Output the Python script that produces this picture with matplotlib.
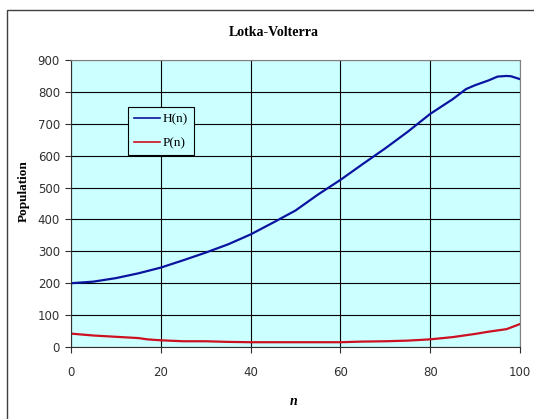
import matplotlib.pyplot as plt
from matplotlib.patches import Rectangle

# values
n_h = [0, 5, 10, 15, 20, 25, 30, 35, 40, 45, 50, 55, 60, 65, 70, 75, 80, 85, 88, 90, 93, 95, 97, 98, 100]
h_vals = [200, 205, 216, 231, 249, 272, 296, 322, 353, 390, 428, 478, 524, 574, 623, 675, 731, 777, 809, 821, 836, 848, 850, 849, 840]

n_p = [0, 5, 10, 15, 17, 20, 25, 30, 35, 40, 50, 60, 65, 70, 75, 80, 85, 90, 93, 97, 100]
p_vals = [42, 36, 32, 28, 24, 21, 18, 18, 16, 15, 15, 15, 17, 18, 20, 24, 31, 41, 48, 56, 72]

x_ticks = [0, 20, 40, 60, 80, 100]
y_ticks = [0, 100, 200, 300, 400, 500, 600, 700, 800, 900]

fig = plt.figure(figsize=(5.34, 4.19), dpi=100)

# outer chart frame (only top and left edges visible)
fig.patches.append(Rectangle((7 / 534, -0.1), 1.2, 1 - 10 / 419 + 0.1,
                             transform=fig.transFigure, fill=False,
                             edgecolor='#404040', linewidth=1.0))

ax = fig.add_axes([71 / 534, 1 - 347 / 419, 449 / 534, 287 / 419])
ax.set_facecolor('#CCFFFF')

ax.plot(n_h, h_vals, color='#0A14A0', linewidth=1.6, label='H(n)')
ax.plot(n_p, p_vals, color='#CC1020', linewidth=1.6, label='P(n)')

ax.set_xlim(0, 100)
ax.set_ylim(0, 900)
ax.set_xticks(x_ticks)
ax.set_yticks(y_ticks)
ax.grid(True, color='black', linewidth=0.8)
ax.set_axisbelow(True)

for side in ['top', 'right']:
    ax.spines[side].set_color('#808080')
for side in ['left', 'bottom']:
    ax.spines[side].set_color('#303030')

ax.tick_params(axis='both', direction='out', length=4, width=0.8,
               labelsize=8.5, labelcolor='#303030', color='#303030')
ax.tick_params(axis='x', pad=10)
ax.tick_params(axis='y', pad=4)

fig.text(0.512, 1 - 32 / 419, 'Lotka-Volterra', ha='center', va='center',
         fontsize=10, fontweight='bold', family='Liberation Serif')
fig.text(24 / 534, 1 - 191 / 419, 'Population', ha='center', va='center', rotation=90,
         fontsize=9.5, fontweight='bold', family='Liberation Serif')
fig.text(294 / 534, 1 - 401 / 419, 'n', ha='center', va='center',
         fontsize=10, fontweight='bold', style='italic', family='Liberation Serif')

leg = ax.legend(loc='upper left', bbox_to_anchor=(128 / 534, 1 - 107 / 419),
                bbox_transform=fig.transFigure, borderaxespad=0,
                prop={'family': 'Liberation Serif', 'size': 9.5},
                fancybox=False, framealpha=1, facecolor='#CCFFFF',
                edgecolor='black', handlelength=2.0, handletextpad=0.2,
                borderpad=0.45, labelspacing=0.9)
leg.get_frame().set_linewidth(0.8)
for line in leg.get_lines():
    line.set_linewidth(1.2)

fig.savefig('out.png', dpi=100)
